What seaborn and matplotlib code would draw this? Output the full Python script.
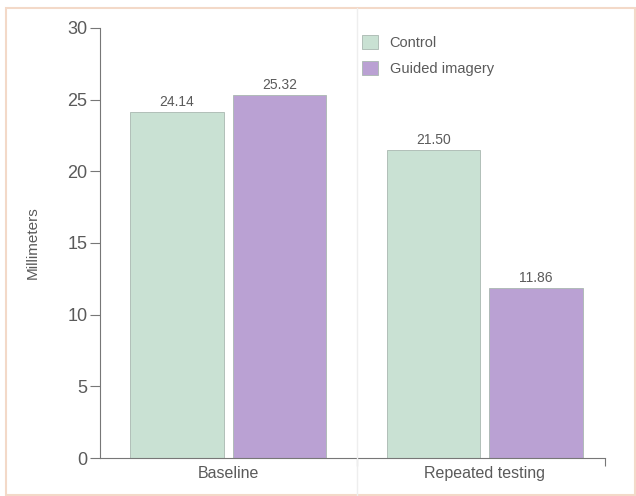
import numpy as np
import pandas as pd
import seaborn as sns
import matplotlib.pyplot as plt
from matplotlib.patches import Rectangle

# data
phases = ['Baseline', 'Repeated testing']
groups = ['Control', 'Guided imagery']
control_mm = [24.14, 21.50]
guided_mm = [25.32, 11.86]

df = pd.DataFrame({
    'phase': phases * 2,
    'group': [groups[0]] * 2 + [groups[1]] * 2,
    'mm': control_mm + guided_mm,
})

sns.set_style('white')
plt.rcParams['font.family'] = ['Liberation Sans', 'DejaVu Sans']
txt_col = '#5a5a5a'

fig = plt.figure(figsize=(6.36, 4.96), dpi=100)
ax = fig.add_axes([0.157, 0.0766, 0.794, 0.867])

pal = {'Control': '#c9e1d3', 'Guided imagery': '#baa1d3'}
sns.barplot(data=df, x='phase', y='mm', hue='group', palette=pal,
            width=0.8, gap=0.09, edgecolor='#a9b8b0', linewidth=0.6,
            saturation=1, ax=ax)

for c in ax.containers:
    ax.bar_label(c, fmt='%.2f', padding=2, fontsize=10, color=txt_col)

ax.set_ylim(0, 30)
ax.set_xlim(-0.501, 1.468)
ax.set_yticks([0, 5, 10, 15, 20, 25, 30])
ax.tick_params(axis='y', direction='out', length=7, width=0.8, color='#777777',
               labelsize=13, labelcolor=txt_col, pad=2, left=True)
ax.set_xticks([0, 1])
ax.set_xticklabels(phases)
ax.tick_params(axis='x', length=0, labelsize=11.5, labelcolor=txt_col, pad=6)
ax.set_xticks([0.501, 1.468], minor=True)
ax.tick_params(axis='x', which='minor', direction='out', length=6, width=0.8,
               color='#777777', bottom=True)

for s in ['top', 'right']:
    ax.spines[s].set_visible(False)
for s in ['left', 'bottom']:
    ax.spines[s].set_color('#777777')
    ax.spines[s].set_linewidth(0.8)

ax.set_xlabel('')
ax.set_ylabel('Millimeters', fontsize=11, color=txt_col, labelpad=20)

leg = ax.legend(loc='upper left', bbox_to_anchor=(0.493, 1.014), frameon=False,
                fontsize=10.5, handlelength=1.1, handleheight=1.1,
                handletextpad=0.8, labelspacing=0.75)
for t in leg.get_texts():
    t.set_color(txt_col)

# page frame and fold
fig.patches.append(Rectangle((0.009, 0.003), 0.99, 0.981, transform=fig.transFigure,
                             fill=False, edgecolor='#f3d9c8', linewidth=1.5))
fig.add_artist(plt.Line2D([0.561, 0.561], [0.003, 0.984], transform=fig.transFigure,
                          color='#eeeeee', linewidth=1))

fig.savefig('out.png', dpi=100)
